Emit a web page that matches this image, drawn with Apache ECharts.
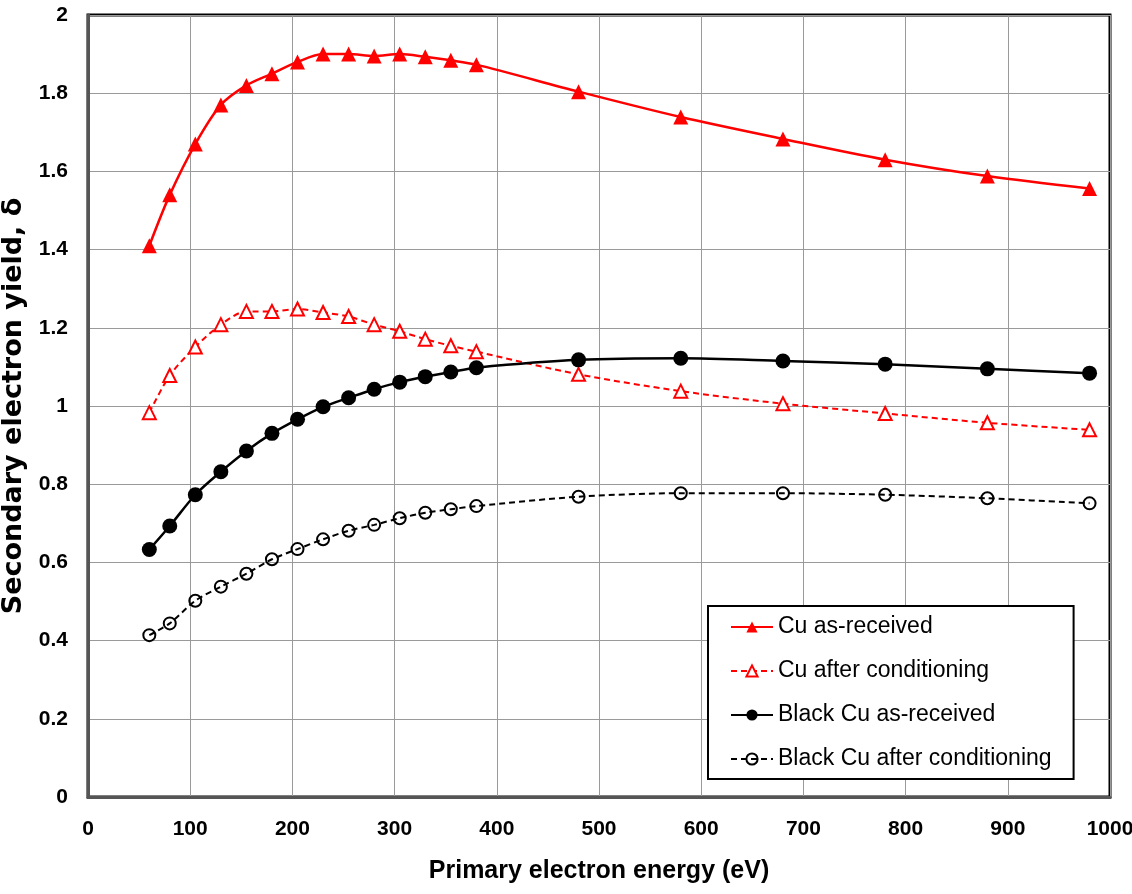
<!DOCTYPE html>
<html>
<head>
<meta charset="utf-8">
<title>Secondary electron yield</title>
<script src="https://cdn.jsdelivr.net/npm/echarts@6/dist/echarts.min.js"></script>
<style>
  html, body { margin: 0; padding: 0; background: #fff; }
  #chart { width: 1132px; height: 894px; }
</style>
</head>
<body>
<div id="chart"></div>
<script>
// primary electron energy (eV)
const energies = [60, 80, 105, 130, 155, 180, 205, 230, 255, 280, 305, 330, 355, 380, 480, 580, 680, 780, 880, 980];

// secondary electron yield for each sample
const cuAsReceived = [1.41, 1.54, 1.67, 1.77, 1.82, 1.85, 1.88, 1.90, 1.90, 1.895, 1.90, 1.893, 1.884, 1.873, 1.804, 1.739, 1.683, 1.63, 1.588, 1.556];
const cuConditioned = [0.983, 1.078, 1.151, 1.208, 1.242, 1.242, 1.248, 1.239, 1.229, 1.208, 1.191, 1.171, 1.154, 1.139, 1.081, 1.038, 1.006, 0.981, 0.957, 0.939];
const blackAsReceived = [0.633, 0.693, 0.773, 0.832, 0.885, 0.93, 0.966, 0.998, 1.021, 1.043, 1.061, 1.075, 1.087, 1.098, 1.118, 1.122, 1.115, 1.107, 1.095, 1.084];
const blackConditioned = [0.414, 0.444, 0.502, 0.538, 0.571, 0.608, 0.634, 0.659, 0.681, 0.696, 0.713, 0.727, 0.736, 0.744, 0.768, 0.777, 0.777, 0.773, 0.764, 0.751];

const seriesNames = ['Cu as-received', 'Cu after conditioning', 'Black Cu as-received', 'Black Cu after conditioning'];

const pairs = ys => energies.map((x, i) => [x, ys[i]]);

const chart = echarts.init(document.getElementById('chart'));

const tickFont = { color: '#000', fontFamily: 'Liberation Sans, Arial, sans-serif', fontWeight: 'bold', fontSize: 21 };

chart.setOption({
  animation: false,
  backgroundColor: '#fff',
  grid: {
    left: 88, right: 22, top: 15, bottom: 97,
    outerBoundsMode: 'none',
    show: true, borderColor: '#000', borderWidth: 3
  },
  legend: {
    orient: 'vertical',
    left: 708, top: 606,
    data: seriesNames,
    backgroundColor: '#fff',
    borderColor: '#000', borderWidth: 2,
    padding: [7, 22, 6, 22],
    itemWidth: 42, itemHeight: 14, itemGap: 16,
    textStyle: { color: '#000', fontFamily: 'Liberation Sans, Arial, sans-serif', fontSize: 23, lineHeight: 28 }
  },
  xAxis: {
    type: 'value', min: 0, max: 1000, interval: 100,
    name: 'Primary electron energy (eV)',
    nameLocation: 'middle', nameGap: 62,
    nameTextStyle: { color: '#000', fontFamily: 'Liberation Sans, Arial, sans-serif', fontWeight: 'bold', fontSize: 25 },
    axisLine: { lineStyle: { color: '#555', width: 3 } },
    axisTick: { show: false },
    axisLabel: Object.assign({ margin: 22, formatter: v => String(v) }, tickFont),
    splitLine: { lineStyle: { color: '#9a9a9a', width: 1 } }
  },
  yAxis: {
    type: 'value', min: 0, max: 2, interval: 0.2,
    name: 'Secondary electron yield, δ',
    nameLocation: 'middle', nameGap: 61, nameRotate: 90,
    nameTextStyle: { color: '#000', fontFamily: 'DejaVu Sans, sans-serif', fontWeight: 'bold', fontSize: 27 },
    axisLine: { lineStyle: { color: '#555', width: 3 } },
    axisTick: { show: false },
    axisLabel: Object.assign({ margin: 20 }, tickFont),
    splitLine: { lineStyle: { color: '#9a9a9a', width: 1 } }
  },
  series: [
    {
      name: seriesNames[0], type: 'line', smooth: 0.3,
      data: pairs(cuAsReceived),
      symbol: 'triangle', symbolSize: 15,
      lineStyle: { color: '#ff0000', width: 2.5 },
      itemStyle: { color: '#ff0000' }
    },
    {
      name: seriesNames[1], type: 'line', smooth: 0.3,
      data: pairs(cuConditioned),
      symbol: 'emptyTriangle', symbolSize: 13,
      lineStyle: { color: '#ff0000', width: 2, type: [6, 4] },
      itemStyle: { color: '#ff0000', borderWidth: 2 }
    },
    {
      name: seriesNames[2], type: 'line', smooth: 0.3,
      data: pairs(blackAsReceived),
      symbol: 'circle', symbolSize: 15,
      lineStyle: { color: '#000', width: 2.5 },
      itemStyle: { color: '#000' }
    },
    {
      name: seriesNames[3], type: 'line', smooth: 0.3,
      data: pairs(blackConditioned),
      symbol: 'circle', symbolSize: 12,
      lineStyle: { color: '#000', width: 2, type: [6, 4] },
      itemStyle: { color: 'rgba(0,0,0,0)', borderColor: '#000', borderWidth: 2 }
    }
  ]
});
</script>
</body>
</html>
